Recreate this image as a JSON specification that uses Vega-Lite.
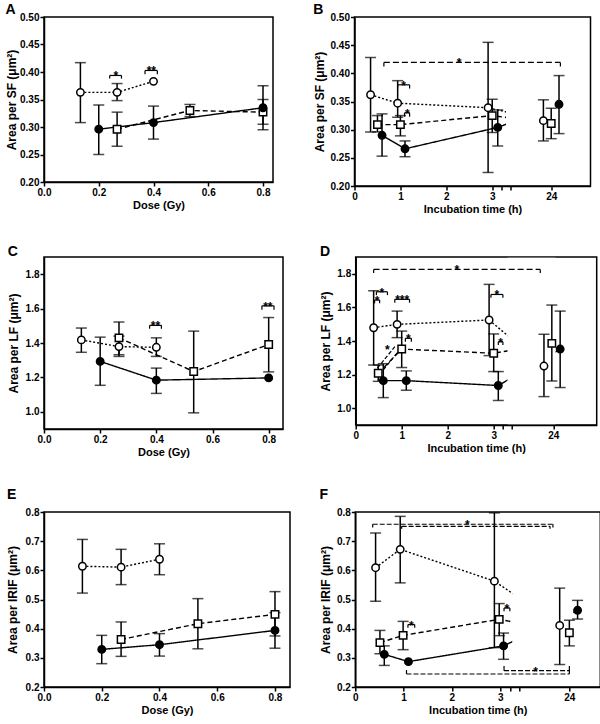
{
"$schema": "https://vega.github.io/schema/vega-lite/v6.json",
"padding": {"top": 2, "left": 4, "right": 0, "bottom": 0},
"config": {
 "font": "Liberation Sans",
 "view": {"stroke": "black", "strokeWidth": 1.5},
 "axis": {"domainColor": "black", "domainWidth": 1.5, "tickColor": "black", "tickWidth": 1.5, "tickSize": 4, "labelPadding": 1, "labelFont": "Liberation Sans", "labelFontWeight": "bold", "labelFontSize": 10, "labelColor": "black", "titleFont": "Liberation Sans", "titleFontWeight": "bold", "titleColor": "black", "grid": false, "labelFlush": false, "labelOverlap": false},
 "axisX": {"titleFontSize": 11, "titlePadding": 2},
 "axisY": {"titleFontSize": 12, "titlePadding": 1},
 "title": {"fontSize": 14, "fontWeight": "bold", "anchor": "start", "frame": "bounds", "color": "black"},
 "legend": {"disable": true}
},
"datasets": {
 "pts": [
  {"p":"A","s":"open","x":0.133,"y":0.363,"lo":0.308,"hi":0.417},
  {"p":"A","s":"open","x":0.267,"y":0.363,"lo":0.348,"hi":0.379},
  {"p":"A","s":"open","x":0.4,"y":0.383,"lo":null,"hi":null},
  {"p":"A","s":"square","x":0.267,"y":0.296,"lo":0.265,"hi":0.327},
  {"p":"A","s":"square","x":0.533,"y":0.330,"lo":0.319,"hi":0.341},
  {"p":"A","s":"square","x":0.8,"y":0.327,"lo":0.305,"hi":0.350},
  {"p":"A","s":"filled","x":0.2,"y":0.296,"lo":0.250,"hi":0.340},
  {"p":"A","s":"filled","x":0.4,"y":0.308,"lo":0.278,"hi":0.338},
  {"p":"A","s":"filled","x":0.8,"y":0.335,"lo":0.295,"hi":0.375},
  {"p":"B","s":"open","x":0.35,"y":0.362,"lo":0.296,"hi":0.428},
  {"p":"B","s":"open","x":0.94,"y":0.347,"lo":0.322,"hi":0.387},
  {"p":"B","s":"open","x":2.91,"y":0.339,"lo":0.224,"hi":0.455},
  {"p":"B","s":"open","x":23.83,"y":0.316,"lo":0.280,"hi":0.353},
  {"p":"B","s":"square","x":0.5,"y":0.309,"lo":0.296,"hi":0.325},
  {"p":"B","s":"square","x":1.0,"y":0.309,"lo":0.289,"hi":0.325},
  {"p":"B","s":"square","x":3.0,"y":0.325,"lo":0.295,"hi":0.354},
  {"p":"B","s":"square","x":24.0,"y":0.311,"lo":0.284,"hi":0.338},
  {"p":"B","s":"filled","x":0.6,"y":0.290,"lo":0.253,"hi":0.328},
  {"p":"B","s":"filled","x":1.1,"y":0.266,"lo":0.252,"hi":0.280},
  {"p":"B","s":"filled","x":3.12,"y":0.304,"lo":0.271,"hi":0.335},
  {"p":"B","s":"filled","x":24.17,"y":0.345,"lo":0.293,"hi":0.396},
  {"p":"C","s":"open","x":0.133,"y":1.418,"lo":1.346,"hi":1.487},
  {"p":"C","s":"open","x":0.267,"y":1.379,"lo":1.332,"hi":1.44},
  {"p":"C","s":"open","x":0.4,"y":1.375,"lo":1.322,"hi":1.43},
  {"p":"C","s":"square","x":0.267,"y":1.43,"lo":1.322,"hi":1.522},
  {"p":"C","s":"square","x":0.533,"y":1.234,"lo":0.994,"hi":1.469},
  {"p":"C","s":"square","x":0.8,"y":1.391,"lo":1.232,"hi":1.548},
  {"p":"C","s":"filled","x":0.2,"y":1.293,"lo":1.154,"hi":1.434},
  {"p":"C","s":"filled","x":0.4,"y":1.184,"lo":1.107,"hi":1.254},
  {"p":"C","s":"filled","x":0.8,"y":1.197,"lo":null,"hi":null},
  {"p":"D","s":"open","x":0.39,"y":1.479,"lo":1.257,"hi":1.699},
  {"p":"D","s":"open","x":0.9,"y":1.499,"lo":1.42,"hi":1.578},
  {"p":"D","s":"open","x":2.9,"y":1.525,"lo":1.313,"hi":1.737},
  {"p":"D","s":"open","x":23.8,"y":1.251,"lo":1.069,"hi":1.44},
  {"p":"D","s":"square","x":0.49,"y":1.208,"lo":1.16,"hi":1.257},
  {"p":"D","s":"square","x":1.0,"y":1.352,"lo":1.242,"hi":1.459},
  {"p":"D","s":"square","x":3.0,"y":1.327,"lo":1.218,"hi":1.442},
  {"p":"D","s":"square","x":23.97,"y":1.386,"lo":1.162,"hi":1.614},
  {"p":"D","s":"filled","x":0.6,"y":1.164,"lo":1.063,"hi":1.265},
  {"p":"D","s":"filled","x":1.1,"y":1.164,"lo":1.107,"hi":1.222},
  {"p":"D","s":"filled","x":3.1,"y":1.135,"lo":1.046,"hi":1.218},
  {"p":"D","s":"filled","x":24.15,"y":1.352,"lo":1.123,"hi":1.578},
  {"p":"E","s":"open","x":0.133,"y":0.614,"lo":0.522,"hi":0.706},
  {"p":"E","s":"open","x":0.267,"y":0.611,"lo":0.551,"hi":0.672},
  {"p":"E","s":"open","x":0.4,"y":0.638,"lo":0.585,"hi":0.691},
  {"p":"E","s":"square","x":0.267,"y":0.363,"lo":0.305,"hi":0.423},
  {"p":"E","s":"square","x":0.533,"y":0.417,"lo":0.331,"hi":0.503},
  {"p":"E","s":"square","x":0.8,"y":0.449,"lo":0.375,"hi":0.527},
  {"p":"E","s":"filled","x":0.2,"y":0.329,"lo":0.280,"hi":0.377},
  {"p":"E","s":"filled","x":0.4,"y":0.345,"lo":0.306,"hi":0.383},
  {"p":"E","s":"filled","x":0.8,"y":0.394,"lo":0.333,"hi":0.455},
  {"p":"F","s":"open","x":0.42,"y":0.609,"lo":0.494,"hi":0.728},
  {"p":"F","s":"open","x":0.93,"y":0.672,"lo":0.557,"hi":0.785},
  {"p":"F","s":"open","x":2.88,"y":0.563,"lo":0.335,"hi":0.797},
  {"p":"F","s":"open","x":23.8,"y":0.411,"lo":0.277,"hi":0.539},
  {"p":"F","s":"square","x":0.51,"y":0.352,"lo":0.314,"hi":0.394},
  {"p":"F","s":"square","x":0.99,"y":0.377,"lo":0.328,"hi":0.425},
  {"p":"F","s":"square","x":2.98,"y":0.432,"lo":0.376,"hi":0.486},
  {"p":"F","s":"square","x":24.0,"y":0.386,"lo":0.341,"hi":0.429},
  {"p":"F","s":"filled","x":0.6,"y":0.312,"lo":0.274,"hi":0.341},
  {"p":"F","s":"filled","x":1.1,"y":0.287,"lo":null,"hi":null},
  {"p":"F","s":"filled","x":3.07,"y":0.341,"lo":0.295,"hi":0.385},
  {"p":"F","s":"filled","x":24.17,"y":0.463,"lo":0.433,"hi":0.497}
 ],
 "br": [
  {"p":"A","k":"short","x1":0.24,"x2":0.283,"y":0.3937,"yt":0.388,"t":"*","xm":0.262},
  {"p":"A","k":"short","x1":0.369,"x2":0.414,"y":0.4028,"yt":0.396,"t":"**","xm":0.392},
  {"p":"B","k":"long","x1":0.64,"x2":24.2,"y":0.4194,"yt":0.412,"t":"*","xm":2.28},
  {"p":"B","k":"short","x1":0.94,"x2":1.2,"y":0.3796,"yt":0.373,"t":"*","xm":1.07},
  {"p":"B","k":"short","x1":1.09,"x2":1.2,"y":0.330,"yt":0.323,"t":"*","xm":1.15},
  {"p":"C","k":"short","x1":0.376,"x2":0.418,"y":1.5025,"yt":1.483,"t":"**","xm":0.397},
  {"p":"C","k":"short","x1":0.776,"x2":0.819,"y":1.616,"yt":1.594,"t":"**","xm":0.797},
  {"p":"D","k":"long","x1":0.39,"x2":23.72,"y":1.826,"yt":1.805,"t":"*","xm":2.2},
  {"p":"D","k":"short","x1":0.45,"x2":0.69,"y":1.693,"yt":1.673,"t":"*","xm":0.57},
  {"p":"D","k":"short","x1":0.41,"x2":0.52,"y":1.644,"yt":1.624,"t":"*","xm":0.465},
  {"p":"D","k":"short","x1":0.85,"x2":1.17,"y":1.648,"yt":1.628,"t":"***","xm":1.01},
  {"p":"D","k":"short","x1":2.94,"x2":3.2,"y":1.677,"yt":1.657,"t":"*","xm":3.07},
  {"p":"D","k":"short","x1":1.08,"x2":1.21,"y":1.416,"yt":1.396,"t":"*","xm":1.145},
  {"p":"D","k":"short","x1":3.1,"x2":3.2,"y":1.396,"yt":1.376,"t":"*","xm":3.15},
  {"p":"F","k":"long","x1":0.36,"x2":23.66,"y":0.758,"yt":0.747,"t":"*","xm":2.32},
  {"p":"F","k":"long","x1":0.96,"x2":23.6,"y":0.751,"yt":0.743,"t":"","xm":2.32},
  {"p":"F","k":"long","x1":1.06,"x2":24.0,"y":0.2446,"yt":0.258,"t":"","xm":12},
  {"p":"F","k":"long","x1":3.08,"x2":24.0,"y":0.256,"yt":0.272,"t":"*","xm":23.3},
  {"p":"F","k":"short","x1":1.09,"x2":1.23,"y":0.414,"yt":0.403,"t":"*","xm":1.16},
  {"p":"F","k":"short","x1":3.08,"x2":3.2,"y":0.471,"yt":0.46,"t":"*","xm":3.14}
 ],
 "dg": [
  {"x1":0.47,"y1":1.238,"x2":0.85,"y2":1.366,"t":"*","lx":0.69,"ly":1.35},
  {"x1":0.6,"y1":1.228,"x2":0.98,"y2":1.356,"t":"","lx":0.69,"ly":1.35}
 ],
 "mk": [
  {"p":"B","x1":3.3,"x2":24.08,"y1":0.205,"y2":0.495},
  {"p":"D","x1":3.3,"x2":24.05,"y1":0.905,"y2":1.895},
  {"p":"F","x1":3.25,"x2":24.08,"y1":0.205,"y2":0.795}
 ]
},
"spacing": 28,
"vconcat": [
 {"spacing": 37.5, "hconcat": [
  {"title": {"text": "A", "offset": -5}, "width": 229, "height": 165,
   "layer": [
    {"data": {"name": "pts"}, "transform": [{"filter": "datum.p=='A'"}],
     "mark": {"type": "line", "color": "black", "strokeWidth": 1.4},
     "encoding": {
      "x": {"field": "x", "type": "quantitative", "scale": {"domain": [0, 0.8365], "nice": false, "zero": false}, "axis": {"values": [0, 0.2, 0.4, 0.6, 0.8], "tickCount": 30, "format": ".1f", "title": "Dose (Gy)", "labelOverlap": false}},
      "y": {"field": "y", "type": "quantitative", "scale": {"domain": [0.2, 0.5], "nice": false, "zero": false}, "axis": {"values": [0.2, 0.25, 0.3, 0.35, 0.4, 0.45, 0.5], "tickCount": 30, "format": ".2f", "title": "Area per SF (μm²)", "titlePadding": 1, "labelOverlap": false}},
      "detail": {"field": "s"},
      "strokeDash": {"field": "s", "type": "nominal", "scale": {"domain": ["open", "square", "filled"], "range": [[2, 2], [5, 3], [1, 0]]}, "legend": null}}},
    {"data": {"name": "pts"}, "transform": [{"filter": "datum.p=='A' && datum.lo != null"}],
     "mark": {"type": "rule", "color": "black", "strokeWidth": 1.5},
     "encoding": {"x": {"field": "x", "type": "quantitative"}, "y": {"field": "lo", "type": "quantitative"}, "y2": {"field": "hi"}}},
    {"data": {"name": "pts"}, "transform": [{"filter": "datum.p=='A' && datum.lo != null"}],
     "mark": {"type": "tick", "orient": "horizontal", "color": "black", "size": 11, "thickness": 1.5},
     "encoding": {"x": {"field": "x", "type": "quantitative"}, "y": {"field": "lo", "type": "quantitative"}}},
    {"data": {"name": "pts"}, "transform": [{"filter": "datum.p=='A' && datum.lo != null"}],
     "mark": {"type": "tick", "orient": "horizontal", "color": "black", "size": 11, "thickness": 1.5},
     "encoding": {"x": {"field": "x", "type": "quantitative"}, "y": {"field": "hi", "type": "quantitative"}}},
    {"data": {"name": "pts"}, "transform": [{"filter": "datum.p=='A'"}],
     "mark": {"type": "point", "filled": true, "stroke": "black", "strokeWidth": 1.5, "opacity": 1, "size": 55},
     "encoding": {"x": {"field": "x", "type": "quantitative"}, "y": {"field": "y", "type": "quantitative"},
      "shape": {"field": "s", "type": "nominal", "scale": {"domain": ["open", "square", "filled"], "range": ["circle", "square", "circle"]}, "legend": null},
      "fill": {"field": "s", "type": "nominal", "scale": {"domain": ["open", "square", "filled"], "range": ["white", "white", "black"]}, "legend": null}}},
    {"data": {"name": "br"}, "transform": [{"filter": "datum.p=='A'"}],
     "mark": {"type": "rule", "color": "black", "strokeWidth": 1.2},
     "encoding": {"x": {"field": "x1", "type": "quantitative"}, "x2": {"field": "x2"}, "y": {"field": "y", "type": "quantitative"}}},
    {"data": {"name": "br"}, "transform": [{"filter": "datum.p=='A'"}],
     "mark": {"type": "rule", "color": "black", "strokeWidth": 1.2},
     "encoding": {"x": {"field": "x1", "type": "quantitative"}, "y": {"field": "y", "type": "quantitative"}, "y2": {"field": "yt"}}},
    {"data": {"name": "br"}, "transform": [{"filter": "datum.p=='A'"}],
     "mark": {"type": "rule", "color": "black", "strokeWidth": 1.2},
     "encoding": {"x": {"field": "x2", "type": "quantitative"}, "y": {"field": "y", "type": "quantitative"}, "y2": {"field": "yt"}}},
    {"data": {"name": "br"}, "transform": [{"filter": "datum.p=='A' && datum.t != ''"}],
     "mark": {"type": "text", "fontSize": 12, "fontWeight": "bold", "baseline": "alphabetic", "dy": 5, "color": "black"},
     "encoding": {"x": {"field": "xm", "type": "quantitative"}, "y": {"field": "y", "type": "quantitative"}, "text": {"field": "t"}}}
   ]},
  {"title": {"text": "B", "offset": -5}, "width": 236, "height": 169,
   "layer": [
    {"data": {"name": "pts"}, "transform": [{"filter": "datum.p=='B'"}],
     "mark": {"type": "line", "color": "black", "strokeWidth": 1.4},
     "encoding": {
      "x": {"field": "x", "type": "quantitative", "scale": {"domain": [0, 3.4, 23.135, 24.856], "range": [0, 156.1, 157, 236], "nice": false, "zero": false}, "axis": {"values": [0, 1, 2, 3, 3.2, 3.4, 24], "tickCount": 30, "format": "d", "labelExpr": "datum.value > 3.1 && datum.value < 3.5 ? '' : datum.label", "title": "Incubation time (h)", "labelOverlap": false}},
      "y": {"field": "y", "type": "quantitative", "scale": {"domain": [0.2, 0.5], "nice": false, "zero": false}, "axis": {"values": [0.2, 0.25, 0.3, 0.35, 0.4, 0.45, 0.5], "tickCount": 30, "format": ".2f", "title": "Area per SF (μm²)", "titlePadding": 3.8, "labelOverlap": false}},
      "detail": {"field": "s"},
      "strokeDash": {"field": "s", "type": "nominal", "scale": {"domain": ["open", "square", "filled"], "range": [[2, 2], [5, 3], [1, 0]]}, "legend": null}}},
    {"data": {"name": "mk"}, "transform": [{"filter": "datum.p=='B'"}],
     "mark": {"type": "rect", "color": "white"},
     "encoding": {"x": {"field": "x1", "type": "quantitative"}, "x2": {"field": "x2"}, "y": {"field": "y1", "type": "quantitative"}, "y2": {"field": "y2"}}},
    {"data": {"name": "pts"}, "transform": [{"filter": "datum.p=='B' && datum.lo != null"}],
     "mark": {"type": "rule", "color": "black", "strokeWidth": 1.5},
     "encoding": {"x": {"field": "x", "type": "quantitative"}, "y": {"field": "lo", "type": "quantitative"}, "y2": {"field": "hi"}}},
    {"data": {"name": "pts"}, "transform": [{"filter": "datum.p=='B' && datum.lo != null"}],
     "mark": {"type": "tick", "orient": "horizontal", "color": "black", "size": 11, "thickness": 1.5},
     "encoding": {"x": {"field": "x", "type": "quantitative"}, "y": {"field": "lo", "type": "quantitative"}}},
    {"data": {"name": "pts"}, "transform": [{"filter": "datum.p=='B' && datum.lo != null"}],
     "mark": {"type": "tick", "orient": "horizontal", "color": "black", "size": 11, "thickness": 1.5},
     "encoding": {"x": {"field": "x", "type": "quantitative"}, "y": {"field": "hi", "type": "quantitative"}}},
    {"data": {"name": "pts"}, "transform": [{"filter": "datum.p=='B'"}],
     "mark": {"type": "point", "filled": true, "stroke": "black", "strokeWidth": 1.5, "opacity": 1, "size": 55},
     "encoding": {"x": {"field": "x", "type": "quantitative"}, "y": {"field": "y", "type": "quantitative"},
      "shape": {"field": "s", "type": "nominal", "scale": {"domain": ["open", "square", "filled"], "range": ["circle", "square", "circle"]}, "legend": null},
      "fill": {"field": "s", "type": "nominal", "scale": {"domain": ["open", "square", "filled"], "range": ["white", "white", "black"]}, "legend": null}}},
    {"data": {"name": "br"}, "transform": [{"filter": "datum.p=='B' && datum.k=='short'"}],
     "mark": {"type": "rule", "color": "black", "strokeWidth": 1.2},
     "encoding": {"x": {"field": "x1", "type": "quantitative"}, "x2": {"field": "x2"}, "y": {"field": "y", "type": "quantitative"}}},
    {"data": {"name": "br"}, "transform": [{"filter": "datum.p=='B' && datum.k=='long'"}],
     "mark": {"type": "rule", "color": "black", "strokeWidth": 1.2, "strokeDash": [6, 3]},
     "encoding": {"x": {"field": "x1", "type": "quantitative"}, "x2": {"field": "x2"}, "y": {"field": "y", "type": "quantitative"}}},
    {"data": {"name": "br"}, "transform": [{"filter": "datum.p=='B'"}],
     "mark": {"type": "rule", "color": "black", "strokeWidth": 1.2},
     "encoding": {"x": {"field": "x1", "type": "quantitative"}, "y": {"field": "y", "type": "quantitative"}, "y2": {"field": "yt"}}},
    {"data": {"name": "br"}, "transform": [{"filter": "datum.p=='B'"}],
     "mark": {"type": "rule", "color": "black", "strokeWidth": 1.2},
     "encoding": {"x": {"field": "x2", "type": "quantitative"}, "y": {"field": "y", "type": "quantitative"}, "y2": {"field": "yt"}}},
    {"data": {"name": "br"}, "transform": [{"filter": "datum.p=='B' && datum.t != ''"}],
     "mark": {"type": "text", "fontSize": 12, "fontWeight": "bold", "baseline": "alphabetic", "dy": 5, "color": "black"},
     "encoding": {"x": {"field": "xm", "type": "quantitative"}, "y": {"field": "y", "type": "quantitative"}, "text": {"field": "t"}}}
   ]}
 ]},
 {"spacing": 34.7, "hconcat": [
  {"title": {"text": "C", "offset": -1.5}, "width": 239, "height": 172,
   "layer": [
    {"data": {"name": "pts"}, "transform": [{"filter": "datum.p=='C'"}],
     "mark": {"type": "line", "color": "black", "strokeWidth": 1.4},
     "encoding": {
      "x": {"field": "x", "type": "quantitative", "scale": {"domain": [0, 0.851], "nice": false, "zero": false}, "axis": {"values": [0, 0.2, 0.4, 0.6, 0.8], "tickCount": 30, "format": ".1f", "title": "Dose (Gy)", "labelOverlap": false}},
      "y": {"field": "y", "type": "quantitative", "scale": {"domain": [0.9, 1.9], "nice": false, "zero": false}, "axis": {"values": [1.0, 1.2, 1.4, 1.6, 1.8], "tickCount": 30, "format": ".1f", "title": "Area per LF (μm²)", "titlePadding": 4.4, "labelOverlap": false}},
      "detail": {"field": "s"},
      "strokeDash": {"field": "s", "type": "nominal", "scale": {"domain": ["open", "square", "filled"], "range": [[2, 2], [5, 3], [1, 0]]}, "legend": null}}},
    {"data": {"name": "pts"}, "transform": [{"filter": "datum.p=='C' && datum.lo != null"}],
     "mark": {"type": "rule", "color": "black", "strokeWidth": 1.5},
     "encoding": {"x": {"field": "x", "type": "quantitative"}, "y": {"field": "lo", "type": "quantitative"}, "y2": {"field": "hi"}}},
    {"data": {"name": "pts"}, "transform": [{"filter": "datum.p=='C' && datum.lo != null"}],
     "mark": {"type": "tick", "orient": "horizontal", "color": "black", "size": 11, "thickness": 1.5},
     "encoding": {"x": {"field": "x", "type": "quantitative"}, "y": {"field": "lo", "type": "quantitative"}}},
    {"data": {"name": "pts"}, "transform": [{"filter": "datum.p=='C' && datum.lo != null"}],
     "mark": {"type": "tick", "orient": "horizontal", "color": "black", "size": 11, "thickness": 1.5},
     "encoding": {"x": {"field": "x", "type": "quantitative"}, "y": {"field": "hi", "type": "quantitative"}}},
    {"data": {"name": "pts"}, "transform": [{"filter": "datum.p=='C'"}],
     "mark": {"type": "point", "filled": true, "stroke": "black", "strokeWidth": 1.5, "opacity": 1, "size": 55},
     "encoding": {"x": {"field": "x", "type": "quantitative"}, "y": {"field": "y", "type": "quantitative"},
      "shape": {"field": "s", "type": "nominal", "scale": {"domain": ["open", "square", "filled"], "range": ["circle", "square", "circle"]}, "legend": null},
      "fill": {"field": "s", "type": "nominal", "scale": {"domain": ["open", "square", "filled"], "range": ["white", "white", "black"]}, "legend": null}}},
    {"data": {"name": "br"}, "transform": [{"filter": "datum.p=='C'"}],
     "mark": {"type": "rule", "color": "black", "strokeWidth": 1.2},
     "encoding": {"x": {"field": "x1", "type": "quantitative"}, "x2": {"field": "x2"}, "y": {"field": "y", "type": "quantitative"}}},
    {"data": {"name": "br"}, "transform": [{"filter": "datum.p=='C'"}],
     "mark": {"type": "rule", "color": "black", "strokeWidth": 1.2},
     "encoding": {"x": {"field": "x1", "type": "quantitative"}, "y": {"field": "y", "type": "quantitative"}, "y2": {"field": "yt"}}},
    {"data": {"name": "br"}, "transform": [{"filter": "datum.p=='C'"}],
     "mark": {"type": "rule", "color": "black", "strokeWidth": 1.2},
     "encoding": {"x": {"field": "x2", "type": "quantitative"}, "y": {"field": "y", "type": "quantitative"}, "y2": {"field": "yt"}}},
    {"data": {"name": "br"}, "transform": [{"filter": "datum.p=='C' && datum.t != ''"}],
     "mark": {"type": "text", "fontSize": 12, "fontWeight": "bold", "baseline": "alphabetic", "dy": 5, "color": "black"},
     "encoding": {"x": {"field": "xm", "type": "quantitative"}, "y": {"field": "y", "type": "quantitative"}, "text": {"field": "t"}}}
   ]},
  {"title": {"text": "D", "offset": -1.5}, "width": 241, "height": 168,
   "layer": [
    {"data": {"name": "pts"}, "transform": [{"filter": "datum.p=='D'"}],
     "mark": {"type": "line", "color": "black", "strokeWidth": 1.4},
     "encoding": {
      "x": {"field": "x", "type": "quantitative", "scale": {"domain": [0, 3.4, 23.135, 24.94], "range": [0, 156.4, 157.5, 241], "nice": false, "zero": false}, "axis": {"values": [0, 1, 2, 3, 3.2, 3.4, 24], "tickCount": 30, "format": "d", "labelExpr": "datum.value > 3.1 && datum.value < 3.5 ? '' : datum.label", "title": "Incubation time (h)", "labelOverlap": false}},
      "y": {"field": "y", "type": "quantitative", "scale": {"domain": [0.9, 1.9], "nice": false, "zero": false}, "axis": {"values": [1.0, 1.2, 1.4, 1.6, 1.8], "tickCount": 30, "format": ".1f", "title": "Area per LF (μm²)", "titlePadding": 3.8, "labelOverlap": false}},
      "detail": {"field": "s"},
      "strokeDash": {"field": "s", "type": "nominal", "scale": {"domain": ["open", "square", "filled"], "range": [[2, 2], [5, 3], [1, 0]]}, "legend": null}}},
    {"data": {"name": "mk"}, "transform": [{"filter": "datum.p=='D'"}],
     "mark": {"type": "rect", "color": "white"},
     "encoding": {"x": {"field": "x1", "type": "quantitative"}, "x2": {"field": "x2"}, "y": {"field": "y1", "type": "quantitative"}, "y2": {"field": "y2"}}},
    {"data": {"name": "pts"}, "transform": [{"filter": "datum.p=='D' && datum.lo != null"}],
     "mark": {"type": "rule", "color": "black", "strokeWidth": 1.5},
     "encoding": {"x": {"field": "x", "type": "quantitative"}, "y": {"field": "lo", "type": "quantitative"}, "y2": {"field": "hi"}}},
    {"data": {"name": "pts"}, "transform": [{"filter": "datum.p=='D' && datum.lo != null"}],
     "mark": {"type": "tick", "orient": "horizontal", "color": "black", "size": 11, "thickness": 1.5},
     "encoding": {"x": {"field": "x", "type": "quantitative"}, "y": {"field": "lo", "type": "quantitative"}}},
    {"data": {"name": "pts"}, "transform": [{"filter": "datum.p=='D' && datum.lo != null"}],
     "mark": {"type": "tick", "orient": "horizontal", "color": "black", "size": 11, "thickness": 1.5},
     "encoding": {"x": {"field": "x", "type": "quantitative"}, "y": {"field": "hi", "type": "quantitative"}}},
    {"data": {"name": "dg"},
     "mark": {"type": "rule", "color": "black", "strokeWidth": 1.2, "strokeDash": [4, 2]},
     "encoding": {"x": {"field": "x1", "type": "quantitative"}, "y": {"field": "y1", "type": "quantitative"}, "x2": {"field": "x2"}, "y2": {"field": "y2"}}},
    {"data": {"name": "dg"}, "transform": [{"filter": "datum.t != ''"}],
     "mark": {"type": "text", "fontSize": 12, "fontWeight": "bold", "baseline": "alphabetic", "dy": 5, "color": "black"},
     "encoding": {"x": {"field": "lx", "type": "quantitative"}, "y": {"field": "ly", "type": "quantitative"}, "text": {"field": "t"}}},
    {"data": {"name": "pts"}, "transform": [{"filter": "datum.p=='D'"}],
     "mark": {"type": "point", "filled": true, "stroke": "black", "strokeWidth": 1.5, "opacity": 1, "size": 55},
     "encoding": {"x": {"field": "x", "type": "quantitative"}, "y": {"field": "y", "type": "quantitative"},
      "shape": {"field": "s", "type": "nominal", "scale": {"domain": ["open", "square", "filled"], "range": ["circle", "square", "circle"]}, "legend": null},
      "fill": {"field": "s", "type": "nominal", "scale": {"domain": ["open", "square", "filled"], "range": ["white", "white", "black"]}, "legend": null}}},
    {"data": {"name": "br"}, "transform": [{"filter": "datum.p=='D' && datum.k=='short'"}],
     "mark": {"type": "rule", "color": "black", "strokeWidth": 1.2},
     "encoding": {"x": {"field": "x1", "type": "quantitative"}, "x2": {"field": "x2"}, "y": {"field": "y", "type": "quantitative"}}},
    {"data": {"name": "br"}, "transform": [{"filter": "datum.p=='D' && datum.k=='long'"}],
     "mark": {"type": "rule", "color": "black", "strokeWidth": 1.2, "strokeDash": [6, 3]},
     "encoding": {"x": {"field": "x1", "type": "quantitative"}, "x2": {"field": "x2"}, "y": {"field": "y", "type": "quantitative"}}},
    {"data": {"name": "br"}, "transform": [{"filter": "datum.p=='D'"}],
     "mark": {"type": "rule", "color": "black", "strokeWidth": 1.2},
     "encoding": {"x": {"field": "x1", "type": "quantitative"}, "y": {"field": "y", "type": "quantitative"}, "y2": {"field": "yt"}}},
    {"data": {"name": "br"}, "transform": [{"filter": "datum.p=='D'"}],
     "mark": {"type": "rule", "color": "black", "strokeWidth": 1.2},
     "encoding": {"x": {"field": "x2", "type": "quantitative"}, "y": {"field": "y", "type": "quantitative"}, "y2": {"field": "yt"}}},
    {"data": {"name": "br"}, "transform": [{"filter": "datum.p=='D' && datum.t != ''"}],
     "mark": {"type": "text", "fontSize": 12, "fontWeight": "bold", "baseline": "alphabetic", "dy": 5, "color": "black"},
     "encoding": {"x": {"field": "xm", "type": "quantitative"}, "y": {"field": "y", "type": "quantitative"}, "text": {"field": "t"}}}
   ]}
 ]},
 {"spacing": 27.3, "hconcat": [
  {"title": {"text": "E", "offset": 5.5}, "width": 246, "height": 175,
   "layer": [
    {"data": {"name": "pts"}, "transform": [{"filter": "datum.p=='E'"}],
     "mark": {"type": "line", "color": "black", "strokeWidth": 1.4},
     "encoding": {
      "x": {"field": "x", "type": "quantitative", "scale": {"domain": [0, 0.852], "nice": false, "zero": false}, "axis": {"values": [0, 0.2, 0.4, 0.6, 0.8], "tickCount": 30, "format": ".1f", "title": "Dose (Gy)", "labelOverlap": false}},
      "y": {"field": "y", "type": "quantitative", "scale": {"domain": [0.2, 0.8], "nice": false, "zero": false}, "axis": {"values": [0.2, 0.3, 0.4, 0.5, 0.6, 0.7, 0.8], "tickCount": 30, "format": ".1f", "title": "Area per IRIF (μm²)", "titlePadding": 5.1, "labelOverlap": false}},
      "detail": {"field": "s"},
      "strokeDash": {"field": "s", "type": "nominal", "scale": {"domain": ["open", "square", "filled"], "range": [[2, 2], [5, 3], [1, 0]]}, "legend": null}}},
    {"data": {"name": "pts"}, "transform": [{"filter": "datum.p=='E' && datum.lo != null"}],
     "mark": {"type": "rule", "color": "black", "strokeWidth": 1.5},
     "encoding": {"x": {"field": "x", "type": "quantitative"}, "y": {"field": "lo", "type": "quantitative"}, "y2": {"field": "hi"}}},
    {"data": {"name": "pts"}, "transform": [{"filter": "datum.p=='E' && datum.lo != null"}],
     "mark": {"type": "tick", "orient": "horizontal", "color": "black", "size": 11, "thickness": 1.5},
     "encoding": {"x": {"field": "x", "type": "quantitative"}, "y": {"field": "lo", "type": "quantitative"}}},
    {"data": {"name": "pts"}, "transform": [{"filter": "datum.p=='E' && datum.lo != null"}],
     "mark": {"type": "tick", "orient": "horizontal", "color": "black", "size": 11, "thickness": 1.5},
     "encoding": {"x": {"field": "x", "type": "quantitative"}, "y": {"field": "hi", "type": "quantitative"}}},
    {"data": {"name": "pts"}, "transform": [{"filter": "datum.p=='E'"}],
     "mark": {"type": "point", "filled": true, "stroke": "black", "strokeWidth": 1.5, "opacity": 1, "size": 55},
     "encoding": {"x": {"field": "x", "type": "quantitative"}, "y": {"field": "y", "type": "quantitative"},
      "shape": {"field": "s", "type": "nominal", "scale": {"domain": ["open", "square", "filled"], "range": ["circle", "square", "circle"]}, "legend": null},
      "fill": {"field": "s", "type": "nominal", "scale": {"domain": ["open", "square", "filled"], "range": ["white", "white", "black"]}, "legend": null}}}
   ]},
  {"title": {"text": "F", "offset": 5.5}, "width": 245, "height": 175,
   "layer": [
    {"data": {"name": "pts"}, "transform": [{"filter": "datum.p=='F'"}],
     "mark": {"type": "line", "color": "black", "strokeWidth": 1.4},
     "encoding": {
      "x": {"field": "x", "type": "quantitative", "scale": {"domain": [0, 3.4, 22.985, 24.64], "range": [0, 164.2, 165, 245], "nice": false, "zero": false}, "axis": {"values": [0, 1, 2, 3, 3.2, 3.4, 24], "tickCount": 30, "format": "d", "labelExpr": "datum.value > 3.1 && datum.value < 3.5 ? '' : datum.label", "title": "Incubation time (h)", "labelOverlap": false}},
      "y": {"field": "y", "type": "quantitative", "scale": {"domain": [0.2, 0.8], "nice": false, "zero": false}, "axis": {"values": [0.2, 0.3, 0.4, 0.5, 0.6, 0.7, 0.8], "tickCount": 30, "format": ".1f", "title": "Area per IRIF (μm²)", "titlePadding": 3.8, "labelOverlap": false}},
      "detail": {"field": "s"},
      "strokeDash": {"field": "s", "type": "nominal", "scale": {"domain": ["open", "square", "filled"], "range": [[2, 2], [5, 3], [1, 0]]}, "legend": null}}},
    {"data": {"name": "mk"}, "transform": [{"filter": "datum.p=='F'"}],
     "mark": {"type": "rect", "color": "white"},
     "encoding": {"x": {"field": "x1", "type": "quantitative"}, "x2": {"field": "x2"}, "y": {"field": "y1", "type": "quantitative"}, "y2": {"field": "y2"}}},
    {"data": {"name": "pts"}, "transform": [{"filter": "datum.p=='F' && datum.lo != null"}],
     "mark": {"type": "rule", "color": "black", "strokeWidth": 1.5},
     "encoding": {"x": {"field": "x", "type": "quantitative"}, "y": {"field": "lo", "type": "quantitative"}, "y2": {"field": "hi"}}},
    {"data": {"name": "pts"}, "transform": [{"filter": "datum.p=='F' && datum.lo != null"}],
     "mark": {"type": "tick", "orient": "horizontal", "color": "black", "size": 11, "thickness": 1.5},
     "encoding": {"x": {"field": "x", "type": "quantitative"}, "y": {"field": "lo", "type": "quantitative"}}},
    {"data": {"name": "pts"}, "transform": [{"filter": "datum.p=='F' && datum.lo != null"}],
     "mark": {"type": "tick", "orient": "horizontal", "color": "black", "size": 11, "thickness": 1.5},
     "encoding": {"x": {"field": "x", "type": "quantitative"}, "y": {"field": "hi", "type": "quantitative"}}},
    {"data": {"name": "pts"}, "transform": [{"filter": "datum.p=='F'"}],
     "mark": {"type": "point", "filled": true, "stroke": "black", "strokeWidth": 1.5, "opacity": 1, "size": 55},
     "encoding": {"x": {"field": "x", "type": "quantitative"}, "y": {"field": "y", "type": "quantitative"},
      "shape": {"field": "s", "type": "nominal", "scale": {"domain": ["open", "square", "filled"], "range": ["circle", "square", "circle"]}, "legend": null},
      "fill": {"field": "s", "type": "nominal", "scale": {"domain": ["open", "square", "filled"], "range": ["white", "white", "black"]}, "legend": null}}},
    {"data": {"name": "br"}, "transform": [{"filter": "datum.p=='F' && datum.k=='short'"}],
     "mark": {"type": "rule", "color": "black", "strokeWidth": 1.2},
     "encoding": {"x": {"field": "x1", "type": "quantitative"}, "x2": {"field": "x2"}, "y": {"field": "y", "type": "quantitative"}}},
    {"data": {"name": "br"}, "transform": [{"filter": "datum.p=='F' && datum.k=='long'"}],
     "mark": {"type": "rule", "color": "black", "strokeWidth": 1.2, "strokeDash": [5, 2]},
     "encoding": {"x": {"field": "x1", "type": "quantitative"}, "x2": {"field": "x2"}, "y": {"field": "y", "type": "quantitative"}}},
    {"data": {"name": "br"}, "transform": [{"filter": "datum.p=='F'"}],
     "mark": {"type": "rule", "color": "black", "strokeWidth": 1.2},
     "encoding": {"x": {"field": "x1", "type": "quantitative"}, "y": {"field": "y", "type": "quantitative"}, "y2": {"field": "yt"}}},
    {"data": {"name": "br"}, "transform": [{"filter": "datum.p=='F'"}],
     "mark": {"type": "rule", "color": "black", "strokeWidth": 1.2},
     "encoding": {"x": {"field": "x2", "type": "quantitative"}, "y": {"field": "y", "type": "quantitative"}, "y2": {"field": "yt"}}},
    {"data": {"name": "br"}, "transform": [{"filter": "datum.p=='F' && datum.t != ''"}],
     "mark": {"type": "text", "fontSize": 12, "fontWeight": "bold", "baseline": "alphabetic", "dy": 5, "color": "black"},
     "encoding": {"x": {"field": "xm", "type": "quantitative"}, "y": {"field": "y", "type": "quantitative"}, "text": {"field": "t"}}}
   ]}
 ]}
]
}
